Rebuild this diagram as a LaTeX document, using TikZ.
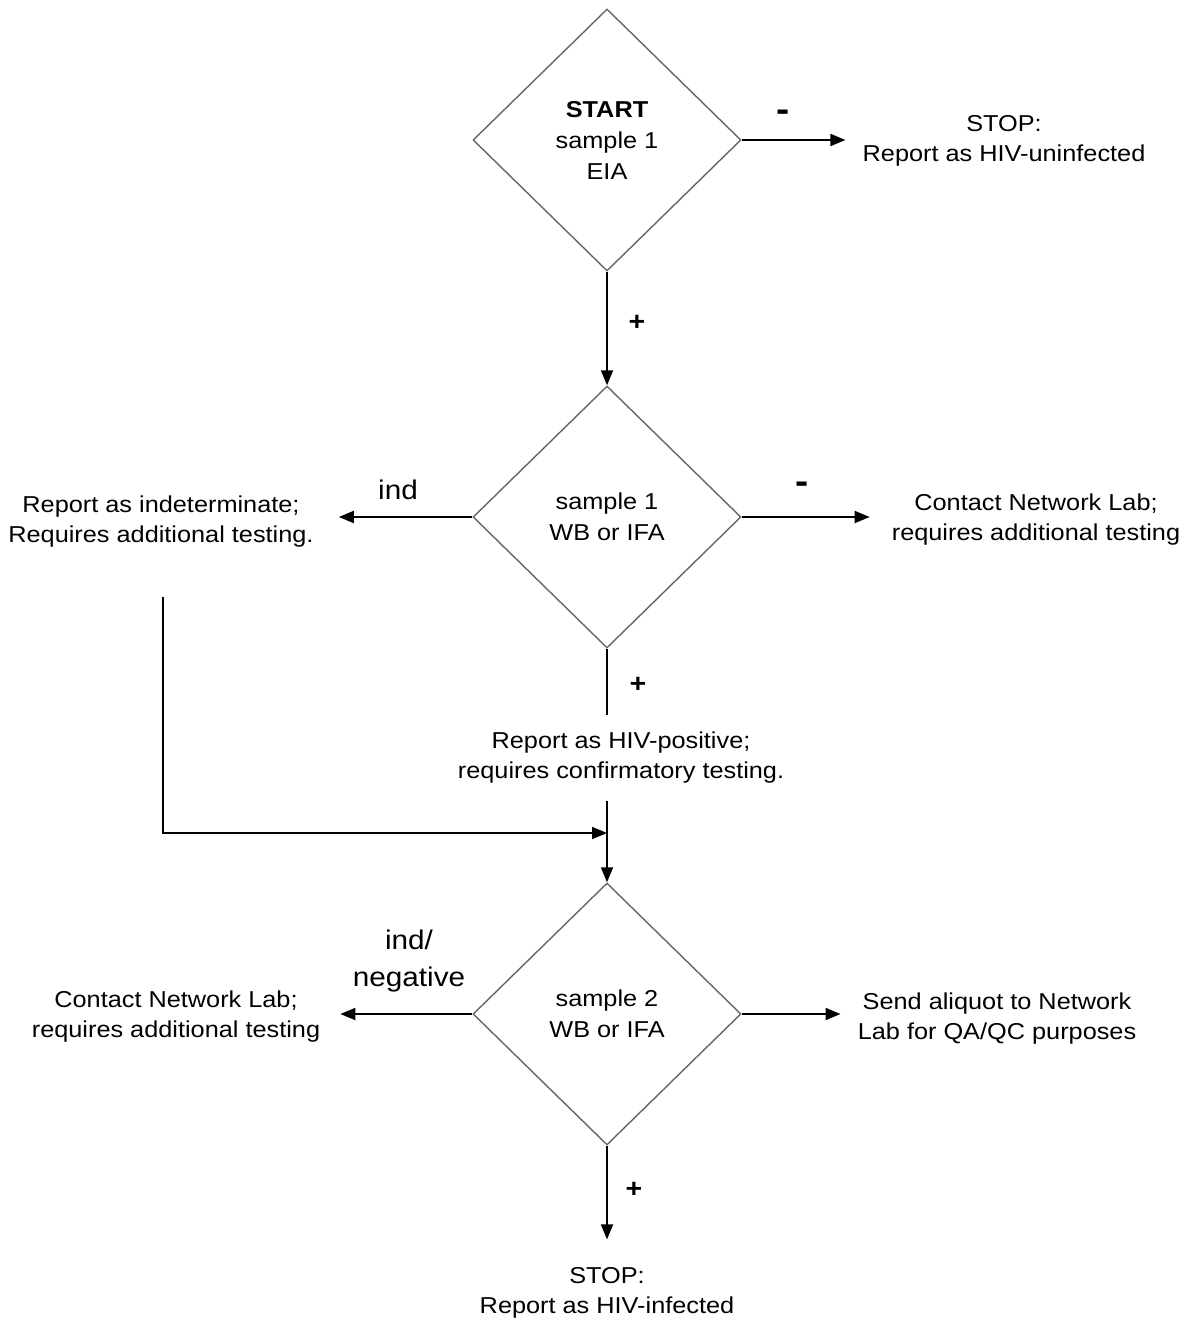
\documentclass[tikz,border=0pt]{standalone}
\usepackage{fontspec}
\setmainfont{Liberation Sans}[FakeStretch=1.1]
\usetikzlibrary{shapes.geometric,arrows.meta}
\begin{document}
\begin{tikzpicture}[x=1pt,y=-1pt,
  dec/.style={draw=black!60, line width=1.4pt, diamond, aspect=1.02,
    minimum width=268pt, minimum height=262pt, inner sep=0pt, align=center,
    font=\fontsize{23}{31}\selectfont},
  txt/.style={align=center, font=\fontsize{23}{30}\selectfont, inner sep=0pt},
  arr/.style={draw=black, line width=1.8pt, -{Triangle[length=15pt,width=12pt]}},
  ln/.style={draw=black, line width=1.8pt},
  sign/.style={font=\fontsize{26}{28}\selectfont\bfseries, inner sep=0pt},
  minus/.style={font=\fontsize{36}{38}\selectfont\bfseries, inner sep=0pt},
  big/.style={font=\fontsize{27}{37}\selectfont, align=center, inner sep=0pt}]
\useasboundingbox (0,0) rectangle (1190,1321);

% decisions
\node[dec] (d1) at (607,140) {\textbf{START}\\sample 1\\EIA};
\node[dec] (d2) at (607,517) {sample 1\\WB or IFA};
\node[dec] (d3) at (607,1014) {sample 2\\WB or IFA};

% outcome texts
\node[txt, inner xsep=17pt] (stop1) at (1004,141) {STOP:\\Report as HIV-uninfected};
\node[txt, inner xsep=25pt] (indet) at (161,522) {Report as indeterminate;\\Requires additional testing.};
\node[txt, inner xsep=22pt] (cnl1) at (1036,520) {Contact Network Lab;\\requires additional testing};
\node[txt, inner ysep=17pt] (pos) at (621,758) {Report as HIV-positive;\\requires confirmatory testing.};
\node[txt, inner xsep=20pt] (cnl2) at (176,1017) {Contact Network Lab;\\requires additional testing};
\node[txt, inner xsep=17pt] (aliq) at (997,1019) {Send aliquot to Network\\Lab for QA/QC purposes};
\node[txt, inner ysep=28pt] (stop2) at (607,1293) {STOP:\\Report as HIV-infected};

% edge labels
\node[minus] (l1) at (783,116) {-};
\node[sign] (l2) at (637,323) {+};
\node[big] (l3) at (398,490) {ind};
\node[minus] (l4) at (802,488) {-};
\node[sign] (l5) at (638,685) {+};
\node[big] (l6) at (409,961) {ind/\\negative};
\node[sign] (l7) at (634,1190) {+};

% connectors
\draw[arr] (d1.east) -- (d1.east -| stop1.west);
\draw[arr] (d1.south) -- (d2.north);
\draw[arr] (d2.west) -- (d2.west -| indet.east);
\draw[arr] (d2.east) -- (d2.east -| cnl1.west);
\draw[ln] (d2.south) -- (d2.south |- pos.north);
\draw[arr] (d3.north |- pos.south) -- (d3.north);
\coordinate (m1) at (163,597);
\coordinate (m3) at (607,833);
\draw[arr] (m1) |- (m3);
\draw[arr] (d3.west) -- (d3.west -| cnl2.east);
\draw[arr] (d3.east) -- (d3.east -| aliq.west);
\draw[arr] (d3.south) -- (stop2.north);
\end{tikzpicture}
\end{document}
